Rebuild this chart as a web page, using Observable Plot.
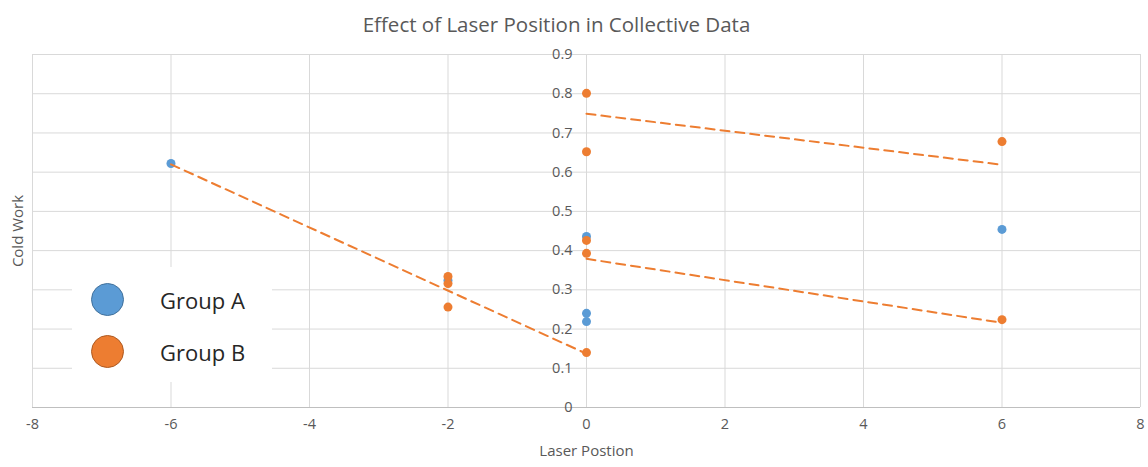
<!DOCTYPE html>
<html>
<head>
<meta charset="utf-8">
<script src="https://cdn.jsdelivr.net/npm/d3@7"></script>
<script src="https://cdn.jsdelivr.net/npm/@observablehq/plot@0.6"></script>
<style>
  html, body { margin: 0; padding: 0; background: #fff; }
  #wrap { position: relative; width: 1148px; height: 467px; font-family: "Open Sans", sans-serif; }
  #legend { position: absolute; left: 72px; top: 267px; width: 200px; height: 115px; background: #fff; }
  .item { position: absolute; left: 0; height: 36px; display: flex; align-items: center; }
  .sw { position: absolute; left: 19px; width: 33px; height: 33px; border-radius: 50%; box-sizing: border-box; border: 1.5px solid; }
  .lab { position: absolute; left: 88px; font-size: 22px; color: #262626; white-space: nowrap; }
</style>
</head>
<body>
<div id="wrap"><div id="legend"></div></div>
<script>
const title = "Effect of Laser Position in Collective Data";
const xLabel = "Laser Postion";
const yLabel = "Cold Work";
const seriesNames = ["Group A", "Group B"];
const seriesColors = ["#5B9BD5", "#ED7D31"];
const seriesStroke = ["#41719C", "#AE5A21"];

const groupAx = [-6, -2, 0, 0, 0, 6];
const groupAy = [0.622, 0.324, 0.436, 0.240, 0.219, 0.454];
const groupBx = [-2, -2, -2, 0, 0, 0, 0, 0, 6, 6];
const groupBy = [0.334, 0.316, 0.256, 0.801, 0.652, 0.426, 0.393, 0.140, 0.678, 0.224];

const trendSeg = [1, 1, 2, 2, 3, 3];
const trendX = [-6, 0, 0, 6, 0, 6];
const trendY = [0.620, 0.137, 0.749, 0.619, 0.379, 0.216];

const xTicks = [-8, -6, -4, -2, 0, 2, 4, 6, 8];
const yTicks = [0, 0.1, 0.2, 0.3, 0.4, 0.5, 0.6, 0.7, 0.8, 0.9];

const dataA = groupAx.map((x, i) => ({x, y: groupAy[i]}));
const dataB = groupBx.map((x, i) => ({x, y: groupBy[i]}));
const trend = trendX.map((x, i) => ({x, y: trendY[i], seg: trendSeg[i]}));

const grid = "#d9d9d9";
const txt = "#595959";

const chart = Plot.plot({
  width: 1148,
  height: 467,
  marginTop: 54,
  marginBottom: 60,
  marginLeft: 32,
  marginRight: 8,
  style: {fontFamily: "'Open Sans', sans-serif", background: "#fff", overflow: "visible"},
  x: {domain: [-8, 8], axis: null},
  y: {domain: [0, 0.9], axis: null},
  marks: [
    Plot.ruleY(yTicks.filter(d => d > 0), {stroke: grid, strokeWidth: 1}),
    Plot.ruleX(xTicks, {stroke: grid, strokeWidth: 1}),
    Plot.ruleY([0], {stroke: "#bfbfbf", strokeWidth: 1}),
    Plot.text(xTicks, {x: d => d, frameAnchor: "bottom", dy: 21, text: d => String(d), fontSize: 14.5, fill: txt}),
    Plot.text(yTicks, {x: 0, y: d => d, text: d => String(d), textAnchor: "end", dx: -14, fontSize: 14.5, fill: txt}),
    Plot.text([xLabel], {frameAnchor: "bottom", dy: 48, fontSize: 15, fill: txt}),
    Plot.text([yLabel], {frameAnchor: "left", textAnchor: "middle", dx: -14, rotate: -90, fontSize: 15, fill: txt}),
    Plot.text([title], {frameAnchor: "top", dy: -37, dx: -30, fontSize: 20.5, fill: txt}),
    Plot.dot(dataA, {x: "x", y: "y", r: 4.5, fill: seriesColors[0], stroke: null}),
    Plot.dot(dataB, {x: "x", y: "y", r: 4.5, fill: seriesColors[1], stroke: null}),
    Plot.line(trend, {x: "x", y: "y", z: "seg", stroke: seriesColors[1], strokeWidth: 2, strokeDasharray: "9,6"})
  ]
});
document.getElementById("wrap").prepend(chart);

const legend = document.getElementById("legend");
seriesNames.forEach((name, i) => {
  const item = document.createElement("div");
  item.className = "item";
  item.style.top = (15 + i * 52) + "px";
  item.style.width = "200px";
  const sw = document.createElement("div");
  sw.className = "sw";
  sw.style.background = seriesColors[i];
  sw.style.borderColor = seriesStroke[i];
  sw.style.top = "1px";
  const lab = document.createElement("div");
  lab.className = "lab";
  lab.textContent = name;
  item.appendChild(sw);
  item.appendChild(lab);
  legend.appendChild(item);
});
</script>
</body>
</html>
